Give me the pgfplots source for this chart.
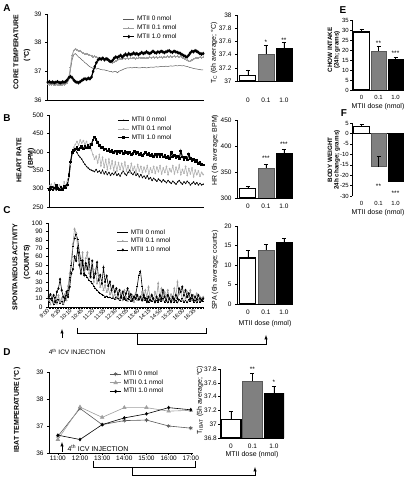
\documentclass[border=0pt]{standalone}
\usepackage{pgfplots}
\pgfplotsset{compat=1.18}
\usepackage{pgfplotstable}
\usepackage{fontspec}
\setmainfont{Liberation Sans}
\newcommand{\tk}{\fontsize{6.5}{7}\selectfont}
\newcommand{\lbl}{\fontsize{7}{8}\selectfont}
\definecolor{lgray}{gray}{0.62}
\definecolor{mgray}{gray}{0.5}
\definecolor{dgray}{gray}{0.35}

\pgfplotstableread{
i v0 v1 v2
0 36.60 36.55 36.62
1 36.58 36.54 36.64
2 36.60 36.53 36.61
3 36.59 36.55 36.63
4 36.57 36.52 36.60
5 36.58 36.53 36.62
6 36.60 36.52 36.64
7 36.58 36.54 36.61
8 36.57 36.51 36.60
9 36.59 36.53 36.63
10 36.58 36.54 36.62
11 36.60 36.56 36.64
12 36.62 36.58 36.70
13 36.70 36.75 36.78
14 37.05 37.15 36.82
15 37.40 37.55 36.78
16 37.58 37.72 36.70
17 37.62 37.78 36.64
18 37.56 37.76 36.62
19 37.50 37.70 36.60
20 37.46 37.72 36.64
21 37.40 37.66 36.68
22 37.36 37.64 36.72
23 37.30 37.60 36.74
24 37.26 37.62 36.72
25 37.20 37.58 36.76
26 37.16 37.56 36.74
27 37.13 37.55 36.80
28 37.10 37.50 37.00
29 37.10 37.52 37.16
30 37.08 37.50 37.30
31 37.10 37.48 37.40
32 37.08 37.45 37.44
33 37.06 37.47 37.42
34 37.05 37.45 37.46
35 37.05 37.42 37.40
36 37.03 37.40 37.44
37 37.02 37.38 37.42
38 37.00 37.40 37.36
39 37.00 37.35 37.34
40 36.97 37.30 37.38
41 36.99 37.32 37.46
42 37.00 37.36 37.50
43 36.95 37.38 37.48
44 37.00 37.42 37.52
45 37.03 37.44 37.56
46 37.05 37.43 37.50
47 37.08 37.45 37.55
48 37.10 37.43 37.60
49 37.12 37.46 37.56
50 37.12 37.44 37.62
51 37.13 37.46 37.58
52 37.12 37.45 37.60
53 37.13 37.47 37.64
54 37.14 37.44 37.60
55 37.13 37.46 37.62
56 37.12 37.45 37.58
57 37.12 37.48 37.62
58 37.13 37.46 37.66
59 37.14 37.47 37.62
60 37.13 37.45 37.64
61 37.12 37.48 37.68
62 37.13 37.46 37.64
63 37.14 37.49 37.62
64 37.15 37.47 37.66
65 37.14 37.50 37.70
66 37.15 37.48 37.66
67 37.16 37.50 37.64
68 37.15 37.47 37.68
69 37.16 37.49 37.66
70 37.17 37.50 37.70
71 37.16 37.48 37.68
72 37.17 37.51 37.65
73 37.18 37.49 37.68
74 37.17 37.52 37.70
75 37.18 37.50 37.72
76 37.19 37.52 37.68
77 37.18 37.50 37.66
78 37.19 37.53 37.70
79 37.20 37.51 37.68
80 37.19 37.52 37.66
81 37.20 37.50 37.64
82 37.20 37.52 37.62
83 37.19 37.48 37.58
84 37.20 37.46 37.55
85 37.18 37.42 37.52
86 37.17 37.38 37.50
87 37.15 37.36 37.56
88 37.13 37.35 37.64
89 37.12 37.38 37.70
90 37.10 37.42 37.68
91 37.09 37.45 37.72
92 37.08 37.48 37.70
93 37.07 37.46 37.66
94 37.06 37.50 37.62
95 37.05 37.48 37.60
96 37.05 37.50 37.62
}\tabA

\pgfplotstableread{
i v0 v1 v2
0 302 308 298
1 298 312 304
2 305 300 296
3 300 315 302
4 296 305 308
5 303 298 300
6 299 310 296
7 306 302 304
8 300 296 298
9 304 318 306
10 308 306 302
11 315 320 310
12 340 330 335
13 375 365 372
14 395 400 398
15 402 412 404
16 405 420 408
17 398 428 412
18 390 418 406
19 385 432 410
20 380 424 414
21 372 430 408
22 366 420 416
23 360 428 410
24 356 415 418
25 352 422 412
26 350 405 420
27 348 392 432
28 346 380 440
29 352 388 434
30 345 370 425
31 348 392 418
32 342 362 410
33 350 385 412
34 340 358 405
35 346 378 408
36 338 352 402
37 344 380 406
38 336 355 400
39 342 375 404
40 338 350 398
41 345 372 402
42 336 348 396
43 340 370 400
44 334 352 398
45 342 368 402
46 348 350 396
47 340 372 400
48 336 348 398
49 344 362 394
50 350 345 398
51 342 368 392
52 338 350 396
53 345 360 400
54 336 342 394
55 340 365 398
56 332 348 392
57 338 360 396
58 330 344 390
59 334 358 394
60 328 346 398
61 335 362 392
62 326 340 396
63 330 356 390
64 322 344 394
65 328 360 388
66 324 342 392
67 320 358 386
68 326 346 394
69 322 362 388
70 318 340 392
71 324 356 386
72 320 344 390
73 316 360 384
74 322 338 388
75 318 354 382
76 314 346 398
77 320 362 386
78 316 340 390
79 312 358 384
80 318 344 388
81 322 364 382
82 316 338 402
83 312 352 386
84 318 342 380
85 314 360 384
86 320 336 378
87 316 354 394
88 310 340 382
89 314 356 376
90 318 332 380
91 312 350 372
92 316 338 378
93 310 348 368
94 314 334 372
95 310 344 366
96 312 338 364
}\tabB

\pgfplotstableread{
i v0 v1 v2
0 5 8 12
1 10 3 15
2 8 12 10
3 3 5 14
4 12 9 6
5 6 4 18
6 9 14 22
7 4 6 33
8 7 10 20
9 3 4 12
10 8 15 10
11 14 8 18
12 20 25 12
13 35 40 24
14 50 55 40
15 72 75 45
16 82 93 60
17 87 88 55
18 80 70 70
19 65 60 50
20 55 48 40
21 50 65 55
22 40 42 38
23 38 58 52
24 35 65 45
25 32 40 57
26 30 35 36
27 28 52 55
28 25 30 35
29 22 45 40
30 20 28 53
31 18 35 32
32 16 24 38
33 15 30 28
34 14 20 47
35 12 26 30
36 13 18 37
37 11 22 25
38 12 15 30
39 10 18 20
40 11 12 25
41 9 15 18
42 12 10 22
43 10 14 15
44 8 9 20
45 11 16 12
46 9 8 18
47 12 20 10
48 8 12 16
49 10 7 22
50 9 18 12
51 7 10 15
52 10 14 8
53 12 6 12
54 15 16 10
55 25 8 14
56 38 12 9
57 43 10 12
58 25 18 8
59 12 9 14
60 8 20 10
61 10 12 6
62 6 24 12
63 9 10 8
64 7 15 14
65 10 8 10
66 5 18 6
67 8 12 12
68 6 28 8
69 9 10 14
70 7 22 10
71 10 8 20
72 6 18 12
73 8 12 8
74 5 20 14
75 9 10 10
76 7 15 6
77 10 8 12
78 6 22 9
79 8 12 14
80 5 30 10
81 9 15 22
82 7 20 18
83 10 8 24
84 6 16 14
85 8 10 20
86 5 18 12
87 9 12 16
88 7 20 10
89 10 8 14
90 6 14 8
91 8 10 12
92 5 16 9
93 9 8 14
94 6 12 10
95 8 10 8
96 7 12 10
}\tabC

\pgfplotsset{
  base/.style={scale only axis, anchor=south west, tick align=outside,
    ticklabel style={font=\tk}, /pgf/number format/assume math mode=true,
    major tick length=2bp, minor tick length=2bp, tick style={black, line width=0.4pt},
    axis line style={line width=0.5pt}},
  linebase/.style={base, axis lines*=left,
    legend style={draw=none, fill=none, font=\tk, inner sep=0pt, row sep=-1.5pt, cells={anchor=west}},
    legend image code/.code={\draw[mark repeat=2,mark phase=2,##1] plot coordinates {(0cm,0cm) (0.2cm,0cm) (0.4cm,0cm)};}},
  barbase/.style={base, axis x line*=bottom, axis y line*=left, xtick={1,2,3},
    xticklabels={0,0.1,1.0}, xtick style={draw=none}, clip mode=individual,
    xlabel style={font=\lbl}},
  ebar/.style={error bars/y dir=plus, error bars/y explicit,
    error bars/error bar style={line width=0.5pt, black},
    error bars/error mark options={rotate=90, mark size=2pt, line width=0.5pt, black}},
  b0/.style={ybar, bar shift=0pt, fill=white, draw=black, line width=1.1pt, ebar},
  b1/.style={ybar, bar shift=0pt, fill=mgray, draw=dgray, line width=0.6pt, ebar},
  b2/.style={ybar, bar shift=0pt, fill=black, draw=black, line width=0.6pt, ebar},
}

\begin{document}
\begin{tikzpicture}
\useasboundingbox (0,0) rectangle (407bp,477bp);

% ---------- A line ----------
\begin{axis}[linebase, at={(47bp,377bp)}, width=157bp, height=86bp,
  xmin=-0.5, xmax=96.5, ymin=36, ymax=39, ytick={36,37,38,39},
  xtick=\empty, minor xtick={0,...,96},
  legend style={at={(0.48,1.0)}, anchor=north west}]
\addplot[dgray, line width=0.5pt] table[x=i,y=v0]{\tabA}; \addlegendentry{MTII 0 nmol}
\addplot[lgray, line width=0.9pt, mark=+, mark size=1pt] table[x=i,y=v1]{\tabA}; \addlegendentry{MTII 0.1 nmol}
\addplot[black, line width=1.2pt, mark=diamond*, mark size=0.9pt] table[x=i,y=v2]{\tabA}; \addlegendentry{MTII 1.0 nmol}
\end{axis}

% ---------- A bar ----------
\begin{axis}[barbase, at={(237bp,396bp)}, width=56bp, height=66bp,
  xmin=0.4, xmax=3.5, ymin=37, ymax=38, ytick={37,37.2,...,38.01},
  xticklabel style={yshift=-11bp}]
\addplot[b0, bar width=16bp] coordinates {(1,37.09) +- (0,0.08)};
\addplot[b1, bar width=16bp] coordinates {(2,37.41) +- (0,0.13)};
\addplot[b2, bar width=16bp] coordinates {(3,37.50) +- (0,0.08)};
\node[font=\tk] at (axis cs:2,37.58) {*};
\node[font=\tk] at (axis cs:3,37.62) {**};
\end{axis}

% ---------- E ----------
\begin{axis}[barbase, at={(352bp,387bp)}, width=52bp, height=70bp,
  ticklabel style={font=\fontsize{6}{6.5}\selectfont},
  yticklabel style={inner xsep=1pt},
  xmin=0.44, xmax=3.5, ymin=0, ymax=35, ytick={0,5,...,35},
  xlabel={MTII dose (nmol)}, xlabel style={yshift=3bp}]
\addplot[b0, bar width=16bp] coordinates {(1,29) +- (0,1.5)};
\addplot[b1, bar width=15bp] coordinates {(2,19.5) +- (0,2.5)};
\addplot[b2, bar width=15bp] coordinates {(3,15.5) +- (0,1)};
\node[font=\tk] at (axis cs:2,23.5) {**};
\node[font=\tk] at (axis cs:3,18.5) {***};
\end{axis}

% ---------- F ----------
\begin{axis}[barbase, at={(352bp,281bp)}, width=52bp, height=73bp,
  ticklabel style={font=\fontsize{6}{6.5}\selectfont},
  yticklabel style={inner xsep=1pt},
  xmin=0.44, xmax=3.5, ymin=-30, ymax=5, ytick={-30,-25,...,5},
  x axis line style={draw=none},
  xlabel={MTII dose (nmol)}, xlabel style={yshift=3bp}]
\draw[black, line width=0.5pt] (axis cs:0.44,0) -- (axis cs:3.5,0);
\addplot[b0, bar width=16bp] coordinates {(1,3.5) +- (0,1)};
\addplot[b1, bar width=15bp] coordinates {(2,-16) +- (0,5)};
\addplot[b2, bar width=15bp] coordinates {(3,-23) +- (0,2)};
\node[font=\tk] at (axis cs:2,-25.5) {**};
\node[font=\tk] at (axis cs:3,-28.8) {***};
\end{axis}

% ---------- B line ----------
\begin{axis}[linebase, at={(49bp,270bp)}, width=155bp, height=92bp,
  xmin=-0.5, xmax=96.5, ymin=250, ymax=500, ytick={250,300,...,500},
  xtick=\empty, minor xtick={0,...,96}, minor tick length=2.5bp,
  legend style={at={(0.44,1.0)}, anchor=north west}]
\addplot[black, line width=0.5pt, mark=*, mark size=0.4pt] table[x=i,y=v0]{\tabB}; \addlegendentry{MTII 0 nmol}
\addplot[lgray!80, line width=0.6pt, mark=*, mark size=0.5pt] table[x=i,y=v1]{\tabB}; \addlegendentry{MTII 0.1 nmol}
\addplot[black, line width=1.1pt, mark=square*, mark size=0.8pt] table[x=i,y=v2]{\tabB}; \addlegendentry{MTII 1.0 nmol}
\end{axis}

% ---------- B bar ----------
\begin{axis}[barbase, at={(237bp,279bp)}, width=56bp, height=78bp,
  xmin=0.4, xmax=3.5, ymin=300, ymax=450, ytick={300,350,400,450}]
\addplot[b0, bar width=16bp] coordinates {(1,318) +- (0,4)};
\addplot[b1, bar width=16bp] coordinates {(2,358) +- (0,7)};
\addplot[b2, bar width=16bp] coordinates {(3,386) +- (0,8)};
\node[font=\tk] at (axis cs:2,376) {***};
\node[font=\tk] at (axis cs:3,404) {***};
\end{axis}

% ---------- C line ----------
\begin{axis}[linebase, at={(48bp,170bp)}, width=156bp, height=84bp,
  xmin=-0.5, xmax=96.5, ymin=0, ymax=100, ytick={0,10,...,100},
  xtick={0,7,...,91}, minor xtick={0,...,96},
  xticklabels={9:00,9:35,10:10,10:45,11:20,11:55,12:30,13:05,13:40,14:15,14:50,15:25,16:00,16:35},
  xticklabel style={rotate=45, anchor=east, inner sep=0.5pt, font=\fontsize{5.6}{6}\selectfont},
  legend style={at={(0.44,0.95)}, anchor=north west}]
\addplot[black, line width=0.6pt, mark=-, mark size=1pt] table[x=i,y=v0]{\tabC}; \addlegendentry{MTII 0 nmol}
\addplot[lgray, line width=0.6pt, mark=triangle*, mark size=0.8pt] table[x=i,y=v1]{\tabC}; \addlegendentry{MTII 0.1 nmol}
\addplot[black, line width=0.6pt, mark=diamond*, mark size=1pt] table[x=i,y=v2]{\tabC}; \addlegendentry{MTII 1.0 nmol}
\end{axis}

% ---------- C bar ----------
\begin{axis}[barbase, at={(237bp,173bp)}, width=56bp, height=78bp,
  xmin=0.4, xmax=3.5, ymin=0, ymax=20, ytick={0,5,...,20},
  xlabel={MTII dose (nmol)}]
\addplot[b0, bar width=16bp] coordinates {(1,11.8) +- (0,2)};
\addplot[b1, bar width=16bp] coordinates {(2,13.8) +- (0,1.5)};
\addplot[b2, bar width=16bp] coordinates {(3,15.8) +- (0,1)};
\end{axis}

% ---------- D line ----------
\begin{axis}[linebase, at={(49bp,24bp)}, width=144bp, height=81bp,
  xmin=0.6, xmax=7.1, ymin=36, ymax=39, ytick={36,37,38,39},
  xtick={1,...,7}, xticklabels={11:00,12:00,13:00,14:00,15:00,16:00,17:00},
  xticklabel style={inner sep=1pt},
  legend style={at={(0.42,1.04)}, anchor=north west}]
\addplot[dgray, line width=0.6pt, mark=asterisk, mark size=2pt] coordinates {(1,36.62) (2,37.65) (3,37.05) (4,37.2) (5,37.22) (6,37.0) (7,36.92)}; \addlegendentry{MTII 0 nmol}
\addplot[lgray, line width=0.6pt, mark=triangle*, mark size=2pt] coordinates {(1,36.5) (2,37.7) (3,37.32) (4,37.68) (5,37.68) (6,37.55) (7,37.58)}; \addlegendentry{MTII 0.1 nmol}
\addplot[black, line width=0.6pt, mark=diamond*, mark size=1.4pt] coordinates {(1,36.66) (2,36.5) (3,37.05) (4,37.3) (5,37.45) (6,37.68) (7,37.6)}; \addlegendentry{MTII 1.0 nmol}
\end{axis}

% ---------- D bar ----------
\begin{axis}[barbase, at={(220bp,39bp)}, width=64bp, height=69bp,
  yticklabel style={inner xsep=1pt},
  xmin=0.49, xmax=3.47, ymin=36.8, ymax=37.8, ytick={36.8,37,...,37.81},
  xlabel={MTII dose (nmol)}, xlabel style={yshift=3bp}]
\addplot[b0, bar width=20bp] coordinates {(1,37.07) +- (0,0.12)};
\addplot[b1, bar width=20bp] coordinates {(2,37.62) +- (0,0.12)};
\addplot[b2, bar width=20bp] coordinates {(3,37.45) +- (0,0.1)};
\node[font=\tk] at (axis cs:2,37.79) {**};
\node[font=\tk] at (axis cs:3,37.61) {*};
\end{axis}

% ---------- panel letters ----------
\begin{scope}[font=\fontsize{10}{11}\selectfont\bfseries]
\node at (7bp,469bp) {A};
\node at (7bp,359bp) {B};
\node at (7bp,267bp) {C};
\node at (7bp,125bp) {D};
\node at (343bp,467bp) {E};
\node at (344bp,364bp) {F};
\end{scope}

% ---------- axis titles ----------
\begin{scope}[font=\lbl\bfseries]
\node[rotate=90] at (16bp,425bp) {CORE TEMPERATURE};
\node[rotate=90] at (27bp,422bp) {(°C)};
\node[rotate=90] at (19bp,317bp) {HEART RATE};
\node[rotate=90] at (31bp,319bp) {(BPM)};
\node[rotate=90] at (15bp,210bp) {SPONTANEOUS ACTIVITY};
\node[rotate=90] at (27bp,215bp) {(COUNTS)};
\node[rotate=90] at (17bp,67bp) {IBAT TEMPERATURE (°C)};
\end{scope}
\begin{scope}[font=\fontsize{6.3}{7}\selectfont\bfseries, inner sep=0pt]
\node[rotate=90] at (330bp,427bp) {CHOW INTAKE};
\node[rotate=90] at (337bp,427bp) {(24h; grams)};
\node[rotate=90] at (330bp,317bp) {BODY WEIGHT};
\node[rotate=90] at (337bp,317bp) {24h change; grams)};
\end{scope}
\begin{scope}[font=\lbl]
\node[rotate=90] at (214bp,424bp) {T\textsubscript{C} (6h average; °C)};
\node[rotate=90] at (215bp,327bp) {HR (6h average; BPM)};
\node[rotate=90] at (215bp,207bp) {SPA (6h average; counts)};
\node[rotate=90] at (200bp,77bp) {T\textsubscript{IBAT} (5h average; °C)};
\end{scope}

% ---------- injection annotations & brackets ----------
\draw[line width=0.5pt, -latex] (62bp,139bp) -- (62bp,148bp);
\node[font=\tk] at (77bp,125bp) {4\textsuperscript{th} ICV INJECTION};
\draw[line width=0.5pt] (77bp,149bp) -- (77bp,144bp) -- (206bp,144bp) -- (206bp,149bp);
\draw[line width=0.5pt, -latex] (137bp,144bp) -- (137bp,133bp) -- (266bp,133bp) -- (266bp,142bp);

\draw[line width=0.5pt, -latex] (62bp,25bp) -- (62bp,35bp);
\node[font=\lbl, anchor=west] at (64bp,29bp) {4\textsuperscript{th} ICV INJECTION};
\draw[line width=0.5pt] (93bp,16bp) -- (93bp,10bp) -- (195bp,10bp) -- (195bp,16bp);
\draw[line width=0.5pt, -latex] (132bp,10bp) -- (132bp,2bp) -- (255bp,2bp) -- (255bp,10bp);
\end{tikzpicture}
\end{document}
